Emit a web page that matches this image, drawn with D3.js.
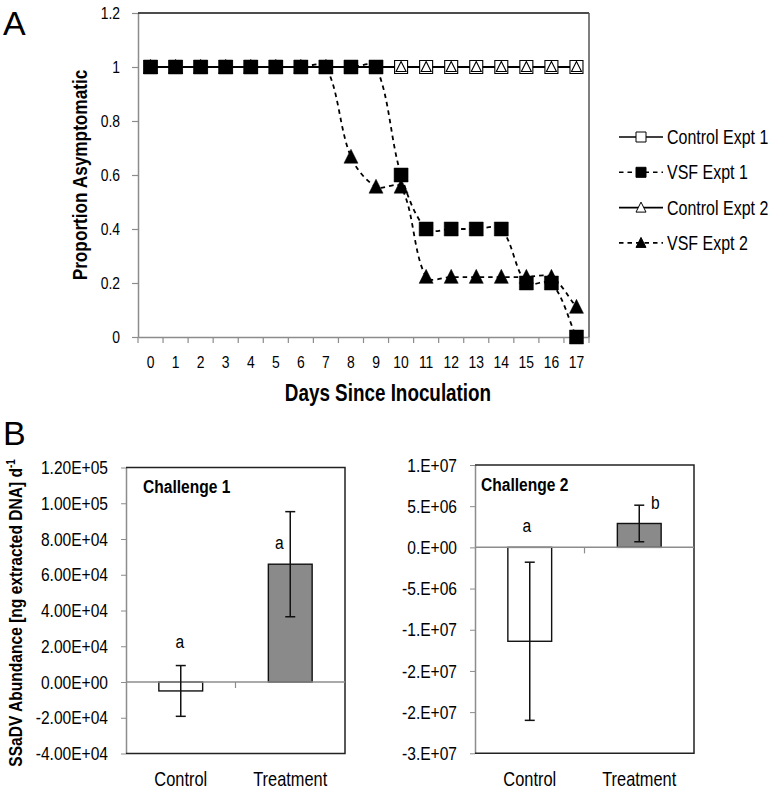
<!DOCTYPE html>
<html>
<head>
<meta charset="utf-8">
<script src="https://cdn.jsdelivr.net/npm/d3@7"></script>
<style>
  body { margin: 0; background: #fff; }
  svg { display: block; font-family: "Liberation Sans", Arial, sans-serif; }
</style>
</head>
<body>
<svg id="chart" width="776" height="792"></svg>
<script>
// ---- Panel A: proportion asymptomatic per day ----
const days = [0, 1, 2, 3, 4, 5, 6, 7, 8, 9, 10, 11, 12, 13, 14, 15, 16, 17];
const controlExpt1 = [1, 1, 1, 1, 1, 1, 1, 1, 1, 1, 1, 1, 1, 1, 1, 1, 1, 1];
const vsfExpt1 = [1, 1, 1, 1, 1, 1, 1, 1, 1, 1, 0.6, 0.4, 0.4, 0.4, 0.4, 0.2, 0.2, 0];
const controlExpt2 = [1, 1, 1, 1, 1, 1, 1, 1, 1, 1, 1, 1, 1, 1, 1, 1, 1, 1];
const vsfExpt2 = [1, 1, 1, 1, 1, 1, 1, 1, 0.667, 0.556, 0.556, 0.222, 0.222, 0.222, 0.222, 0.222, 0.222, 0.111];
const proportionTicks = [0, 0.2, 0.4, 0.6, 0.8, 1, 1.2];
const proportionTickLabels = ['0', '0.2', '0.4', '0.6', '0.8', '1', '1.2'];
const seriesNames = ['Control Expt 1', 'VSF Expt 1', 'Control Expt 2', 'VSF Expt 2'];

// ---- Panel B: SSaDV abundance ----
const groups = ['Control', 'Treatment'];
const challenge1Means = [-5000, 65900];
const challenge1Errors = [14200, 29400];
const challenge1Letters = ['a', 'a'];
const challenge1Ticks = [-40000, -20000, 0, 20000, 40000, 60000, 80000, 100000, 120000];
const challenge1TickLabels = ['-4.00E+04', '-2.00E+04', '0.00E+00', '2.00E+04', '4.00E+04', '6.00E+04', '8.00E+04', '1.00E+05', '1.20E+05'];
const challenge2Means = [-11400000, 2900000];
const challenge2Errors = [9600000, 2220000];
const challenge2Letters = ['a', 'b'];
const challenge2Ticks = [-25000000, -20000000, -15000000, -10000000, -5000000, 0, 5000000, 10000000];
const challenge2TickLabels = ['-3.E+07', '-2.E+07', '-2.E+07', '-1.E+07', '-5.E+06', '0.E+00', '5.E+06', '1.E+07'];

const axisGray = '#8c8c8c';
const svg = d3.select('#chart');

// marker path centred on 0,0
function markerPath(shape, w) {
    const h = w / 2;
    if (shape === 'square') {
        return `M${-h},${-h}H${h}V${h}H${-h}Z`;
    }
    return `M0,${-w * 0.55}L${h},${w * 0.45}L${-h},${w * 0.45}Z`;
}

// spreadsheet-style smoothing: bezier handles scaled by segment lengths
function SmoothCurve(context) { this._context = context; }
SmoothCurve.prototype = {
    areaStart() {}, areaEnd() {},
    lineStart() { this._pts = []; },
    point(x, y) { this._pts.push([+x, +y]); },
    lineEnd() {
        const p = this._pts, ctx = this._context;
        const dist = (a, b) => Math.hypot(b[0] - a[0], b[1] - a[1]);
        if (!p.length) return;
        ctx.moveTo(p[0][0], p[0][1]);
        for (let i = 0; i < p.length - 1; i++) {
            const p0 = p[i - 1] || p[i], p1 = p[i], p2 = p[i + 1], p3 = p[i + 2] || p[i + 1];
            const d01 = dist(p0, p1), d12 = dist(p1, p2), d23 = dist(p2, p3);
            const f1 = d12 / (d01 + d12 || 1) / 3;
            const f2 = d12 / (d12 + d23 || 1) / 3;
            ctx.bezierCurveTo(
                p1[0] + (p2[0] - p0[0]) * f1, p1[1] + (p2[1] - p0[1]) * f1,
                p2[0] - (p3[0] - p1[0]) * f2, p2[1] - (p3[1] - p1[1]) * f2,
                p2[0], p2[1]);
        }
    }
};
const curveSmooth = context => new SmoothCurve(context);

// ================= PANEL A =================
const plotA = { left: 138, right: 589, top: 13, bottom: 337 };
const xA = d3.scaleBand().domain(days).range([plotA.left, plotA.right]);
const yA = d3.scaleLinear().domain([0, 1.2]).range([plotA.bottom, plotA.top]);
const bwA = xA.bandwidth();

const series = [
    { name: seriesNames[0], values: controlExpt1, dashed: false, shape: 'square', filled: false, size: 13 },
    { name: seriesNames[2], values: controlExpt2, dashed: false, shape: 'triangle', filled: false, size: 10 },
    { name: seriesNames[1], values: vsfExpt1, dashed: true, shape: 'square', filled: true, size: 14 },
    { name: seriesNames[3], values: vsfExpt2, dashed: true, shape: 'triangle', filled: true, size: 14 }
];

// left axis
const yAxisA = svg.append('g')
    .attr('transform', `translate(${plotA.left},0)`)
    .call(d3.axisLeft(yA)
        .tickValues(proportionTicks)
        .tickFormat((d, i) => proportionTickLabels[i])
        .tickSize(6)
        .tickSizeOuter(0)
        .tickPadding(12));
yAxisA.selectAll('.tick text').attr('class', 'narrow').style('font-size', '17px').style('fill', '#000');

// bottom axis (labels at band centres, ticks at band edges)
const xAxisA = svg.append('g')
    .attr('transform', `translate(0,${plotA.bottom})`)
    .call(d3.axisBottom(xA).tickSize(0).tickPadding(19));
xAxisA.selectAll('.tick text').attr('class', 'narrow').style('font-size', '17px').style('fill', '#000');
xAxisA.selectAll('.boundary')
    .data(days.concat([null]))
    .enter()
    .append('line')
    .attr('class', 'boundary')
    .attr('x1', d => d === null ? plotA.right : xA(d))
    .attr('x2', d => d === null ? plotA.right : xA(d))
    .attr('y1', 0)
    .attr('y2', 6);

[yAxisA, xAxisA].forEach(g => {
    g.selectAll('path.domain').attr('stroke', axisGray).attr('stroke-width', 1.5);
    g.selectAll('line').attr('stroke', axisGray).attr('stroke-width', 1.2);
});

// top / right frame
svg.append('line')
    .attr('x1', plotA.left).attr('x2', plotA.right)
    .attr('y1', plotA.top).attr('y2', plotA.top)
    .attr('stroke', '#111').attr('stroke-width', 1.5);
svg.append('line')
    .attr('x1', plotA.right).attr('x2', plotA.right)
    .attr('y1', plotA.top).attr('y2', plotA.bottom)
    .attr('stroke', '#555').attr('stroke-width', 1.5);

// series lines
const smoothLine = d3.line()
    .x((d, i) => xA(days[i]) + bwA / 2)
    .y(d => yA(d))
    .curve(curveSmooth);

series.forEach(s => {
    svg.append('path')
        .datum(s.values)
        .attr('d', smoothLine)
        .attr('fill', 'none')
        .attr('stroke', '#000')
        .attr('stroke-width', 1.8)
        .attr('stroke-dasharray', s.dashed ? '4.5,4' : null);
});

// markers
series.forEach(s => {
    svg.append('g')
        .selectAll('path')
        .data(s.values)
        .enter()
        .append('path')
        .attr('transform', (d, i) => `translate(${xA(days[i]) + bwA / 2},${yA(d)})`)
        .attr('d', markerPath(s.shape, s.size))
        .attr('fill', s.filled ? '#000' : '#fff')
        .attr('stroke', '#000')
        .attr('stroke-width', s.filled ? 0.5 : 1.1);
});

// axis titles
svg.append('text')
    .attr('class', 'narrow')
    .attr('transform', `translate(87,175) rotate(-90)`)
    .attr('text-anchor', 'middle')
    .style('font-size', '21px')
    .style('font-weight', 'bold')
    .text('Proportion Asymptomatic');

svg.append('text')
    .attr('class', 'narrow')
    .attr('x', 388)
    .attr('y', 401)
    .attr('text-anchor', 'middle')
    .style('font-size', '23px')
    .style('font-weight', 'bold')
    .text('Days Since Inoculation');

svg.append('text')
    .attr('x', 3)
    .attr('y', 35)
    .style('font-size', '34px')
    .text('A');

// legend
const legendOrder = [
    { name: seriesNames[0], dashed: false, shape: 'square', filled: false },
    { name: seriesNames[1], dashed: true, shape: 'square', filled: true },
    { name: seriesNames[2], dashed: false, shape: 'triangle', filled: false },
    { name: seriesNames[3], dashed: true, shape: 'triangle', filled: true }
];
const legend = svg.append('g').attr('transform', 'translate(619,137)');
legendOrder.forEach((s, i) => {
    const item = legend.append('g').attr('transform', `translate(0,${i * 35.3})`);
    item.append('line')
        .attr('x1', 0).attr('x2', 44)
        .attr('y1', 0).attr('y2', 0)
        .attr('stroke', '#000')
        .attr('stroke-width', 1.6)
        .attr('stroke-dasharray', s.dashed ? '4.5,4' : null);
    item.append('path')
        .attr('transform', 'translate(22,0)')
        .attr('d', markerPath(s.shape, 10))
        .attr('fill', s.filled ? '#000' : '#fff')
        .attr('stroke', '#000')
        .attr('stroke-width', 1);
    item.append('text')
        .attr('class', 'narrow')
        .attr('x', 48)
        .attr('y', 7)
        .style('font-size', '19.5px')
        .text(s.name);
});

// ================= PANEL B =================
function drawBarPanel(cfg) {
    const x = d3.scaleBand().domain(groups).range([cfg.left, cfg.right]);
    const y = d3.scaleLinear().domain(cfg.domain).range([cfg.bottom, cfg.top]);
    const bw = x.bandwidth();
    const barW = bw * 0.4;

    const yAxis = svg.append('g')
        .attr('transform', `translate(${cfg.left},0)`)
        .call(d3.axisLeft(y)
            .tickValues(cfg.ticks)
            .tickFormat((d, i) => cfg.tickLabels[i])
            .tickSize(5)
            .tickSizeOuter(0)
            .tickPadding(13));
    yAxis.selectAll('.tick text').attr('class', 'narrow').style('font-size', '19px').style('fill', '#000');
    yAxis.select('path.domain').attr('stroke', axisGray).attr('stroke-width', 1.5);
    yAxis.selectAll('line').attr('stroke', axisGray);

    // frame: top, right, bottom
    svg.append('path')
        .attr('d', `M${cfg.left},${cfg.top}H${cfg.right}V${cfg.bottom}H${cfg.left}`)
        .attr('fill', 'none')
        .attr('stroke', '#222')
        .attr('stroke-width', 1.5);

    // bars
    svg.append('g')
        .selectAll('rect')
        .data(cfg.means)
        .enter()
        .append('rect')
        .attr('x', (d, i) => x(groups[i]) + (bw - barW) / 2)
        .attr('y', d => y(Math.max(0, d)))
        .attr('width', barW)
        .attr('height', d => Math.abs(y(d) - y(0)))
        .attr('fill', (d, i) => i === 0 ? '#fff' : '#8a8a8a')
        .attr('stroke', '#111')
        .attr('stroke-width', 1.4);

    // zero line with category divider tick
    const zeroY = y(0);
    svg.append('line')
        .attr('x1', cfg.left).attr('x2', cfg.right)
        .attr('y1', zeroY).attr('y2', zeroY)
        .attr('stroke', axisGray).attr('stroke-width', 1.5);
    svg.append('line')
        .attr('x1', x(groups[1])).attr('x2', x(groups[1]))
        .attr('y1', zeroY).attr('y2', zeroY + 6)
        .attr('stroke', axisGray).attr('stroke-width', 1.2);

    // error bars
    const err = svg.append('g').attr('stroke', '#111').attr('stroke-width', 1.5);
    cfg.means.forEach((m, i) => {
        const cx = x(groups[i]) + bw / 2;
        const hi = y(m + cfg.errors[i]);
        const lo = y(m - cfg.errors[i]);
        err.append('line').attr('x1', cx).attr('x2', cx).attr('y1', hi).attr('y2', lo);
        err.append('line').attr('x1', cx - 5).attr('x2', cx + 5).attr('y1', hi).attr('y2', hi);
        err.append('line').attr('x1', cx - 5).attr('x2', cx + 5).attr('y1', lo).attr('y2', lo);
    });

    // significance letters
    cfg.letters.forEach((l, i) => {
        svg.append('text')
            .attr('class', 'narrow')
            .attr('x', x(groups[i]) + bw / 2 + cfg.letterPos[i].dx)
            .attr('y', y(cfg.letterPos[i].value))
            .attr('text-anchor', 'middle')
            .style('font-size', '19px')
            .text(l);
    });

    // category labels
    svg.append('g')
        .selectAll('text')
        .data(groups)
        .enter()
        .append('text')
        .attr('class', 'narrow')
        .attr('x', d => x(d) + bw / 2)
        .attr('y', 786)
        .attr('text-anchor', 'middle')
        .style('font-size', '20px')
        .text(d => d);

    svg.append('text')
        .attr('class', 'narrow')
        .attr('x', cfg.left + cfg.titleDx)
        .attr('y', cfg.top + 26)
        .style('font-size', '19px')
        .style('font-weight', 'bold')
        .text(cfg.title);
}

drawBarPanel({
    left: 126, right: 345, top: 467.5, bottom: 753.5,
    domain: [-40000, 120000],
    ticks: challenge1Ticks, tickLabels: challenge1TickLabels,
    means: challenge1Means, errors: challenge1Errors,
    letters: challenge1Letters,
    letterPos: [{ dx: -1, value: 19200 }, { dx: -11, value: 74600 }],
    title: 'Challenge 1', titleDx: 17
});

drawBarPanel({
    left: 475, right: 694, top: 465, bottom: 753.3,
    domain: [-25000000, 10000000],
    ticks: challenge2Ticks, tickLabels: challenge2TickLabels,
    means: challenge2Means, errors: challenge2Errors,
    letters: challenge2Letters,
    letterPos: [{ dx: -3, value: 1900000 }, { dx: 16, value: 4650000 }],
    title: 'Challenge 2', titleDx: 6
});

// shared y title for panel B
const yTitleB = svg.append('text')
    .attr('class', 'narrow')
    .attr('transform', 'translate(22,613) rotate(-90)')
    .attr('text-anchor', 'middle')
    .style('font-size', '19px')
    .style('font-weight', 'bold');
yTitleB.append('tspan').text('SSaDV Abundance [ng extracted DNA] d');
yTitleB.append('tspan')
    .attr('baseline-shift', 'super')
    .style('font-size', '12px')
    .text('-1');

svg.append('text')
    .attr('x', 3)
    .attr('y', 445)
    .style('font-size', '34px')
    .text('B');

// no narrow face installed: squeeze the regular one around each text's anchor
svg.selectAll('text.narrow').each(function () {
    const el = d3.select(this);
    const x = +el.attr('x') || 0;
    const y = +el.attr('y') || 0;
    const t = el.attr('transform') || '';
    el.attr('transform', `${t} translate(${x},${y}) scale(0.82,1) translate(${-x},${-y})`);
});
</script>
</body>
</html>
